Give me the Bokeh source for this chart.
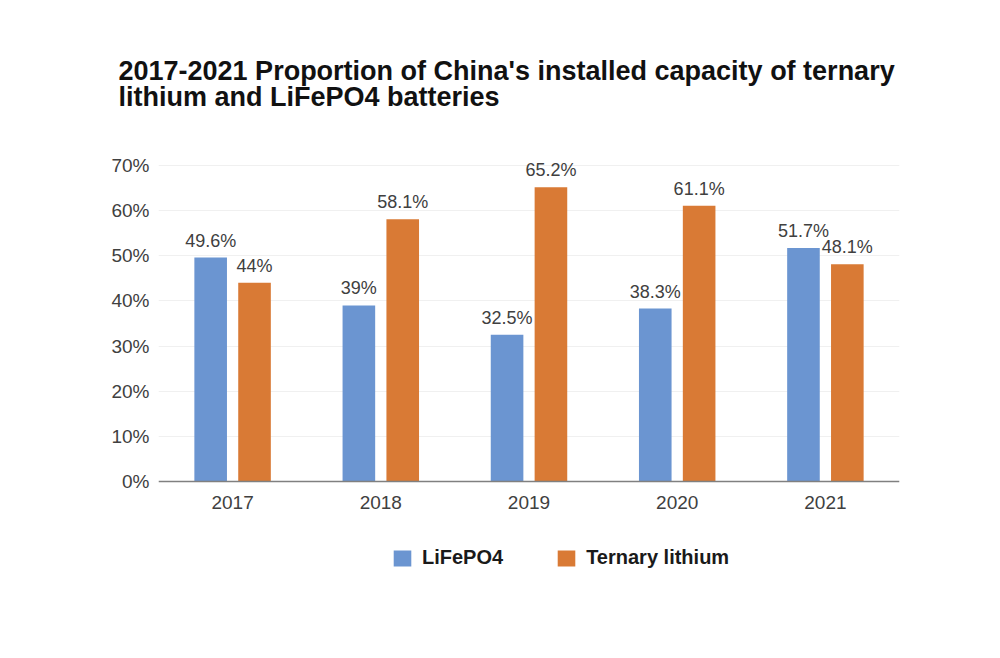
from bokeh.plotting import figure
from bokeh.models import (ColumnDataSource, Legend, LegendItem, FactorRange,
                          Range1d, FixedTicker)
from bokeh.transform import dodge
from bokeh.core.properties import value
from bokeh.embed import file_html
from bokeh.resources import INLINE

years = ["2017", "2018", "2019", "2020", "2021"]
lifepo4 = [49.6, 39, 32.5, 38.3, 51.7]
ternary = [44, 58.1, 65.2, 61.1, 48.1]
y_ticks = [0, 10, 20, 30, 40, 50, 60, 70]
series_names = ["LiFePO4", "Ternary lithium"]
title_lines = ["2017-2021 Proportion of China's installed capacity of ternary",
               "lithium and LiFePO4 batteries"]

BLUE = "#6b95d1"
ORANGE = "#d97a35"
FONT = "Liberation Sans"

# layout (pixels): frame top, 70% line, zero line, frame bottom
TOP, TOP_TICK, ZERO, BOTTOM, H = 145, 165, 481, 600, 642
tick_top = y_ticks[-1]
px_per_unit = (ZERO - TOP_TICK) / tick_top
y_max = tick_top + (TOP_TICK - TOP) / px_per_unit
y_min = -(BOTTOM - ZERO) / px_per_unit

src = ColumnDataSource(dict(
    year=years, lfp=lifepo4, tern=ternary,
    lfp_lbl=[f"{v:g}%" for v in lifepo4],
    tern_lbl=[f"{v:g}%" for v in ternary],
))

p = figure(x_range=FactorRange(*years), y_range=Range1d(y_min, y_max),
           width=984, height=H, output_backend="svg", toolbar_location=None,
           min_border_left=158, min_border_right=85, min_border_top=TOP,
           min_border_bottom=H - BOTTOM)
p.background_fill_color = "white"
p.border_fill_color = "white"
p.outline_line_color = None

p.title.text = "\n".join(title_lines)
p.title.align = "left"
p.title.offset = -40
p.title.text_font = FONT
p.title.text_font_size = "27px"
p.title.text_font_style = "bold"
p.title.text_color = "#111111"
p.title.text_line_height = 0.85
p.title.standoff = 68

off = 0.148
bw = 0.22
r1 = p.vbar(x=dodge("year", -off, range=p.x_range), top="lfp", width=bw,
            source=src, fill_color=BLUE, line_color=None)
r2 = p.vbar(x=dodge("year", off, range=p.x_range), top="tern", width=bw,
            source=src, fill_color=ORANGE, line_color=None)

for col, lbl, o in (("lfp", "lfp_lbl", -off), ("tern", "tern_lbl", off)):
    p.text(x=dodge("year", o, range=p.x_range), y=col, text=lbl, source=src,
           text_align="center", text_baseline="bottom", y_offset=-7,
           text_font=value(FONT), text_font_size="18px", text_color="#404040")

p.xgrid.grid_line_color = None
p.ygrid.grid_line_color = "#f0f0f0"
p.ygrid.ticker = FixedTicker(ticks=y_ticks)

p.yaxis.ticker = FixedTicker(ticks=y_ticks)
p.yaxis.major_label_overrides = {t: f"{t}%" for t in y_ticks}
p.yaxis.axis_line_color = None
p.yaxis.major_tick_line_color = None
p.yaxis.minor_tick_line_color = None
p.yaxis.major_label_text_font = FONT
p.yaxis.major_label_text_font_size = "19px"
p.yaxis.major_label_text_color = "#404040"
p.yaxis.major_label_standoff = 3

p.xaxis.fixed_location = 0
p.xaxis.axis_line_color = "#808080"
p.xaxis.axis_line_width = 1.5
p.xaxis.major_tick_line_color = None
p.xaxis.minor_tick_line_color = None
p.xaxis.major_label_text_font = FONT
p.xaxis.major_label_text_font_size = "19px"
p.xaxis.major_label_text_color = "#404040"
p.xaxis.major_label_standoff = 8

legend = Legend(items=[LegendItem(label=series_names[0], renderers=[r1]),
                       LegendItem(label=series_names[1], renderers=[r2])],
                orientation="horizontal", location=(233, 31), padding=0, margin=0,
                border_line_color=None, background_fill_alpha=0,
                glyph_width=22, glyph_height=20, label_standoff=9, spacing=52,
                label_text_font=FONT, label_text_font_style="bold",
                label_text_font_size="20px", label_text_color="#1a1a1a")
p.add_layout(legend, "center")

open("out.html", "w").write(file_html(p, INLINE))
